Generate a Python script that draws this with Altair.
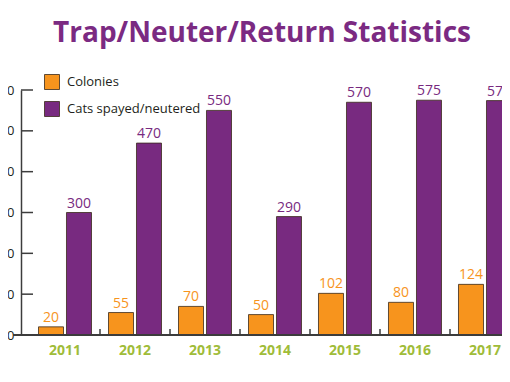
import altair as alt
import pandas as pd

title_text = ["Trap/Neuter/Return Statistics"]
years = ["2011", "2012", "2013", "2014", "2015", "2016", "2017"]
colonies = [20, 55, 70, 50, 102, 80, 124]
cats = [300, 470, 550, 290, 570, 575, 574]
series_names = ["Colonies", "Cats spayed/neutered"]
series_colors = ["#f7941d", "#782a80"]
y_ticks = [0, 100, 200, 300, 400, 500, 600]
inner_ticks = [100, 200, 300, 400, 500, 600]
divider_years = ["2012", "2013", "2014", "2015", "2016", "2017"]

rows = []
for i, yr in enumerate(years):
    rows.append({"year": yr, "series": series_names[0], "value": colonies[i]})
    rows.append({"year": yr, "series": series_names[1], "value": cats[i]})
df = pd.DataFrame(rows)
tick_df = pd.DataFrame({"v": inner_ticks})
div_df = pd.DataFrame({"year": divider_years})
title_df = pd.DataFrame({"t": title_text})

AXIS = "#3c3c3c"
FONT = "Open Sans"

xscale = alt.Scale(domain=years, range=[0, 508], paddingInner=0, paddingOuter=0.1286)
yscale = alt.Scale(domain=[0, 600], nice=False)
oscale = alt.Scale(domain=series_names, paddingInner=0.107, paddingOuter=0.3036)
cscale = alt.Scale(domain=series_names, range=series_colors)

x_enc = alt.X("year:N", scale=xscale, sort=years,
              axis=alt.Axis(title=None, domain=False, ticks=False, labelPadding=8,
                            labelFont=FONT, labelFontSize=14, labelFontWeight="bold",
                            labelColor="#a0bc38", labelAngle=0))
y_enc = alt.Y("value:Q", scale=yscale,
              axis=alt.Axis(title=None, values=y_ticks, grid=False, ticks=False,
                            domainColor=AXIS, domainWidth=1.5, labelPadding=7,
                            labelFont=FONT, labelFontSize=13, labelColor="#231f20"))
o_enc = alt.XOffset("series:N", scale=oscale, sort=series_names)

base = alt.Chart(df)

bars = base.mark_bar(stroke="#3a2a1a", strokeWidth=0.8).encode(
    x=x_enc, y=y_enc, xOffset=o_enc,
    color=alt.Color("series:N", scale=cscale, sort=series_names,
                    legend=alt.Legend(title=None, orient="none", legendX=23, legendY=-16,
                                      symbolType="square", symbolSize=225,
                                      symbolStrokeColor="#3a2a1a", symbolStrokeWidth=0.8,
                                      labelFont=FONT, labelFontSize=13, labelColor="#231f20",
                                      labelOffset=7, rowPadding=7, padding=0)),
)

labels = base.mark_text(font=FONT, fontSize=14, baseline="alphabetic", dy=-5).encode(
    x=alt.X("year:N", scale=xscale, sort=years),
    y=alt.Y("value:Q", scale=yscale),
    xOffset=o_enc,
    text=alt.Text("value:Q"),
    fill=alt.Fill("series:N", scale=alt.Scale(domain=series_names, range=series_colors), legend=None),
)

yticks = alt.Chart(tick_df).mark_rule(color=AXIS, strokeWidth=1.5).encode(
    y=alt.Y("v:Q", scale=yscale), x=alt.value(0), x2=alt.value(12)
)

xline = alt.Chart(tick_df).mark_rule(color=AXIS, strokeWidth=1.5).encode(
    x=alt.value(-8), x2=alt.value(520), y=alt.value(245)
)

dividers = alt.Chart(div_df).mark_rule(color=AXIS, strokeWidth=1.5).encode(
    x=alt.X("year:N", scale=xscale, sort=years, bandPosition=0),
    y=alt.value(239), y2=alt.value(245)
)

title = alt.Chart(title_df).mark_text(font="Open Sans", fontSize=28, fontWeight="bold",
                                      color="#7b2a82", align="center",
                                      baseline="alphabetic").encode(
    text="t:N", x=alt.value(241), y=alt.value(-48)
)

chart = alt.layer(bars, labels, yticks, xline, dividers, title).properties(
    width=481, height=245,
    autosize=alt.AutoSizeParams(type="none"),
    padding={"left": 13, "top": 82, "right": 0, "bottom": 25},
).resolve_scale(fill="independent").configure_view(stroke=None)

chart.save("out.html", embed_options={"renderer": "svg", "actions": False})
